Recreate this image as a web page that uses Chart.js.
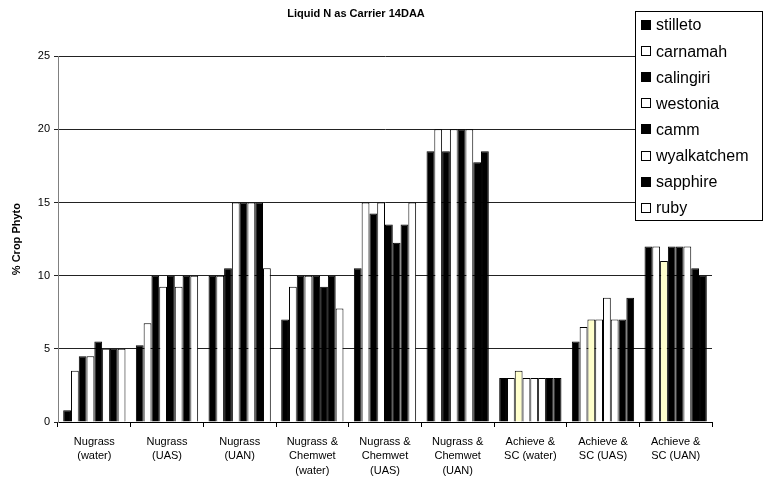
<!DOCTYPE html>
<html>
<head>
<meta charset="utf-8">
<script src="https://cdn.jsdelivr.net/npm/chart.js@4.4.0/dist/chart.umd.min.js"></script>
<style>
  html, body { margin: 0; padding: 0; background: #fff; }
  #wrap { width: 763px; height: 486px; }
</style>
</head>
<body>
<div id="wrap"><canvas id="c" width="763" height="486"></canvas></div>
<script>
// data
const categories = [
  ['Nugrass', '(water)'],
  ['Nugrass', '(UAS)'],
  ['Nugrass', '(UAN)'],
  ['Nugrass &', 'Chemwet', '(water)'],
  ['Nugrass &', 'Chemwet', '(UAS)'],
  ['Nugrass &', 'Chemwet', '(UAN)'],
  ['Achieve &', 'SC (water)'],
  ['Achieve &', 'SC (UAS)'],
  ['Achieve &', 'SC (UAN)'],
];
const seriesNames = ['stilleto', 'carnamah', 'calingiri', 'westonia', 'camm', 'wyalkatchem', 'sapphire', 'ruby'];
const stilleto    = [0.8, 5.25, 10,   7,    10.5,  18.5,  3,   5.5, 12];
const carnamah    = [3.5, 6.75, 10,   9.25, 15,    20,    3,   6.5, 12];
const calingiri   = [4.5, 10,   10.5, 10,   14.25, 18.5,  3.5, 7,   11];
const westonia    = [4.5, 9.25, 15,   10,   15,    20,    3,   7,   12];
const camm        = [5.5, 10,   15,   10,   13.5,  20,    3,   8.5, 12];
const wyalkatchem = [5,   9.25, 15,   9.25, 12.25, 20,    3,   7,   12];
const sapphire    = [5,   10,   15,   10,   13.5,  17.75, 3,   7,   10.5];
const ruby        = [5,   10,   10.5, 7.75, 15,    18.5,  3,   8.5, 10];
const yTicks = [0, 5, 10, 15, 20, 25];

const seriesValues = [stilleto, carnamah, calingiri, westonia, camm, wyalkatchem, sapphire, ruby];

// fill of each bar, one string per group (B black, W white, Y pale yellow)
const groupFills = [
  'BWBWBWBW', 'BWBWBWBW', 'BWBWBWBW',
  'BWBWBBBW', 'BWBWBBBW', 'BWBWBWBB',
  'BWYWWWBB', 'BWYWWWBB', 'BWYBBWBB',
];
const fillColor = { B: '#000000', W: '#ffffff', Y: '#ffffcc' };
const FONT = '"Liberation Sans", Arial, sans-serif';

const datasets = seriesNames.map((name, s) => ({
  label: name,
  data: seriesValues[s],
  backgroundColor: groupFills.map((g) => fillColor[g[s]]),
  legendColor: s % 2 === 0 ? '#000000' : '#ffffff',
  borderColor: '#000000',
  borderWidth: 1,
  borderSkipped: 'bottom',
  categoryPercentage: 0.857,
  barPercentage: 1,
}));

// legend box drawn over the top right of the plot
const boxLegend = {
  id: 'boxLegend',
  afterDraw(chart) {
    const ctx = chart.ctx;
    ctx.save();
    ctx.fillStyle = '#fff';
    ctx.fillRect(635, 11, 127, 209);
    ctx.strokeStyle = '#000';
    ctx.lineWidth = 1;
    ctx.strokeRect(635.5, 11.5, 127, 209);
    ctx.font = '16px ' + FONT;
    ctx.textBaseline = 'middle';
    chart.data.datasets.forEach((ds, i) => {
      const y = 25 + i * 26.1;
      ctx.fillStyle = ds.legendColor;
      ctx.fillRect(641, Math.round(y - 5), 10, 10);
      ctx.strokeRect(641.5, Math.round(y - 5) + 0.5, 9, 9);
      ctx.fillStyle = '#000';
      ctx.fillText(ds.label, 656, y + 1);
    });
    ctx.restore();
  },
};

new Chart(document.getElementById('c'), {
  type: 'bar',
  data: { labels: categories, datasets },
  options: {
    responsive: false,
    animation: false,
    layout: { padding: { top: 0, right: 51, bottom: 0, left: 0 } },
    plugins: {
      legend: { display: false },
      tooltip: { enabled: false },
      title: {
        display: true,
        text: 'Liquid N as Carrier 14DAA',
        color: '#000',
        font: { family: FONT, size: 11, weight: 'bold' },
        padding: { top: 7, bottom: 36 },
      },
    },
    scales: {
      x: {
        afterFit: (scale) => { scale.height = 64; },
        grid: {
          display: true,
          drawOnChartArea: false,
          drawTicks: true,
          tickLength: 5,
          offset: true,
          color: '#000',
        },
        border: { display: true, color: '#000' },
        ticks: {
          color: '#000',
          padding: 7,
          maxRotation: 0,
          autoSkip: false,
          font: { family: FONT, size: 11, lineHeight: 1.36 },
        },
      },
      y: {
        min: 0,
        max: 25,
        afterFit: (scale) => { scale.width = 58; },
        afterBuildTicks: (scale) => { scale.ticks = yTicks.map((v) => ({ value: v })); },
        grid: { color: '#222', tickLength: 4, drawTicks: true },
        border: { display: true, color: '#808080' },
        ticks: {
          color: '#000',
          padding: 4,
          font: { family: FONT, size: 11 },
        },
        title: {
          display: true,
          text: '% Crop Phyto',
          color: '#000',
          font: { family: FONT, size: 11, weight: 'bold' },
          padding: { top: 10, bottom: 0 },
        },
      },
    },
  },
  plugins: [boxLegend],
});
</script>
</body>
</html>
